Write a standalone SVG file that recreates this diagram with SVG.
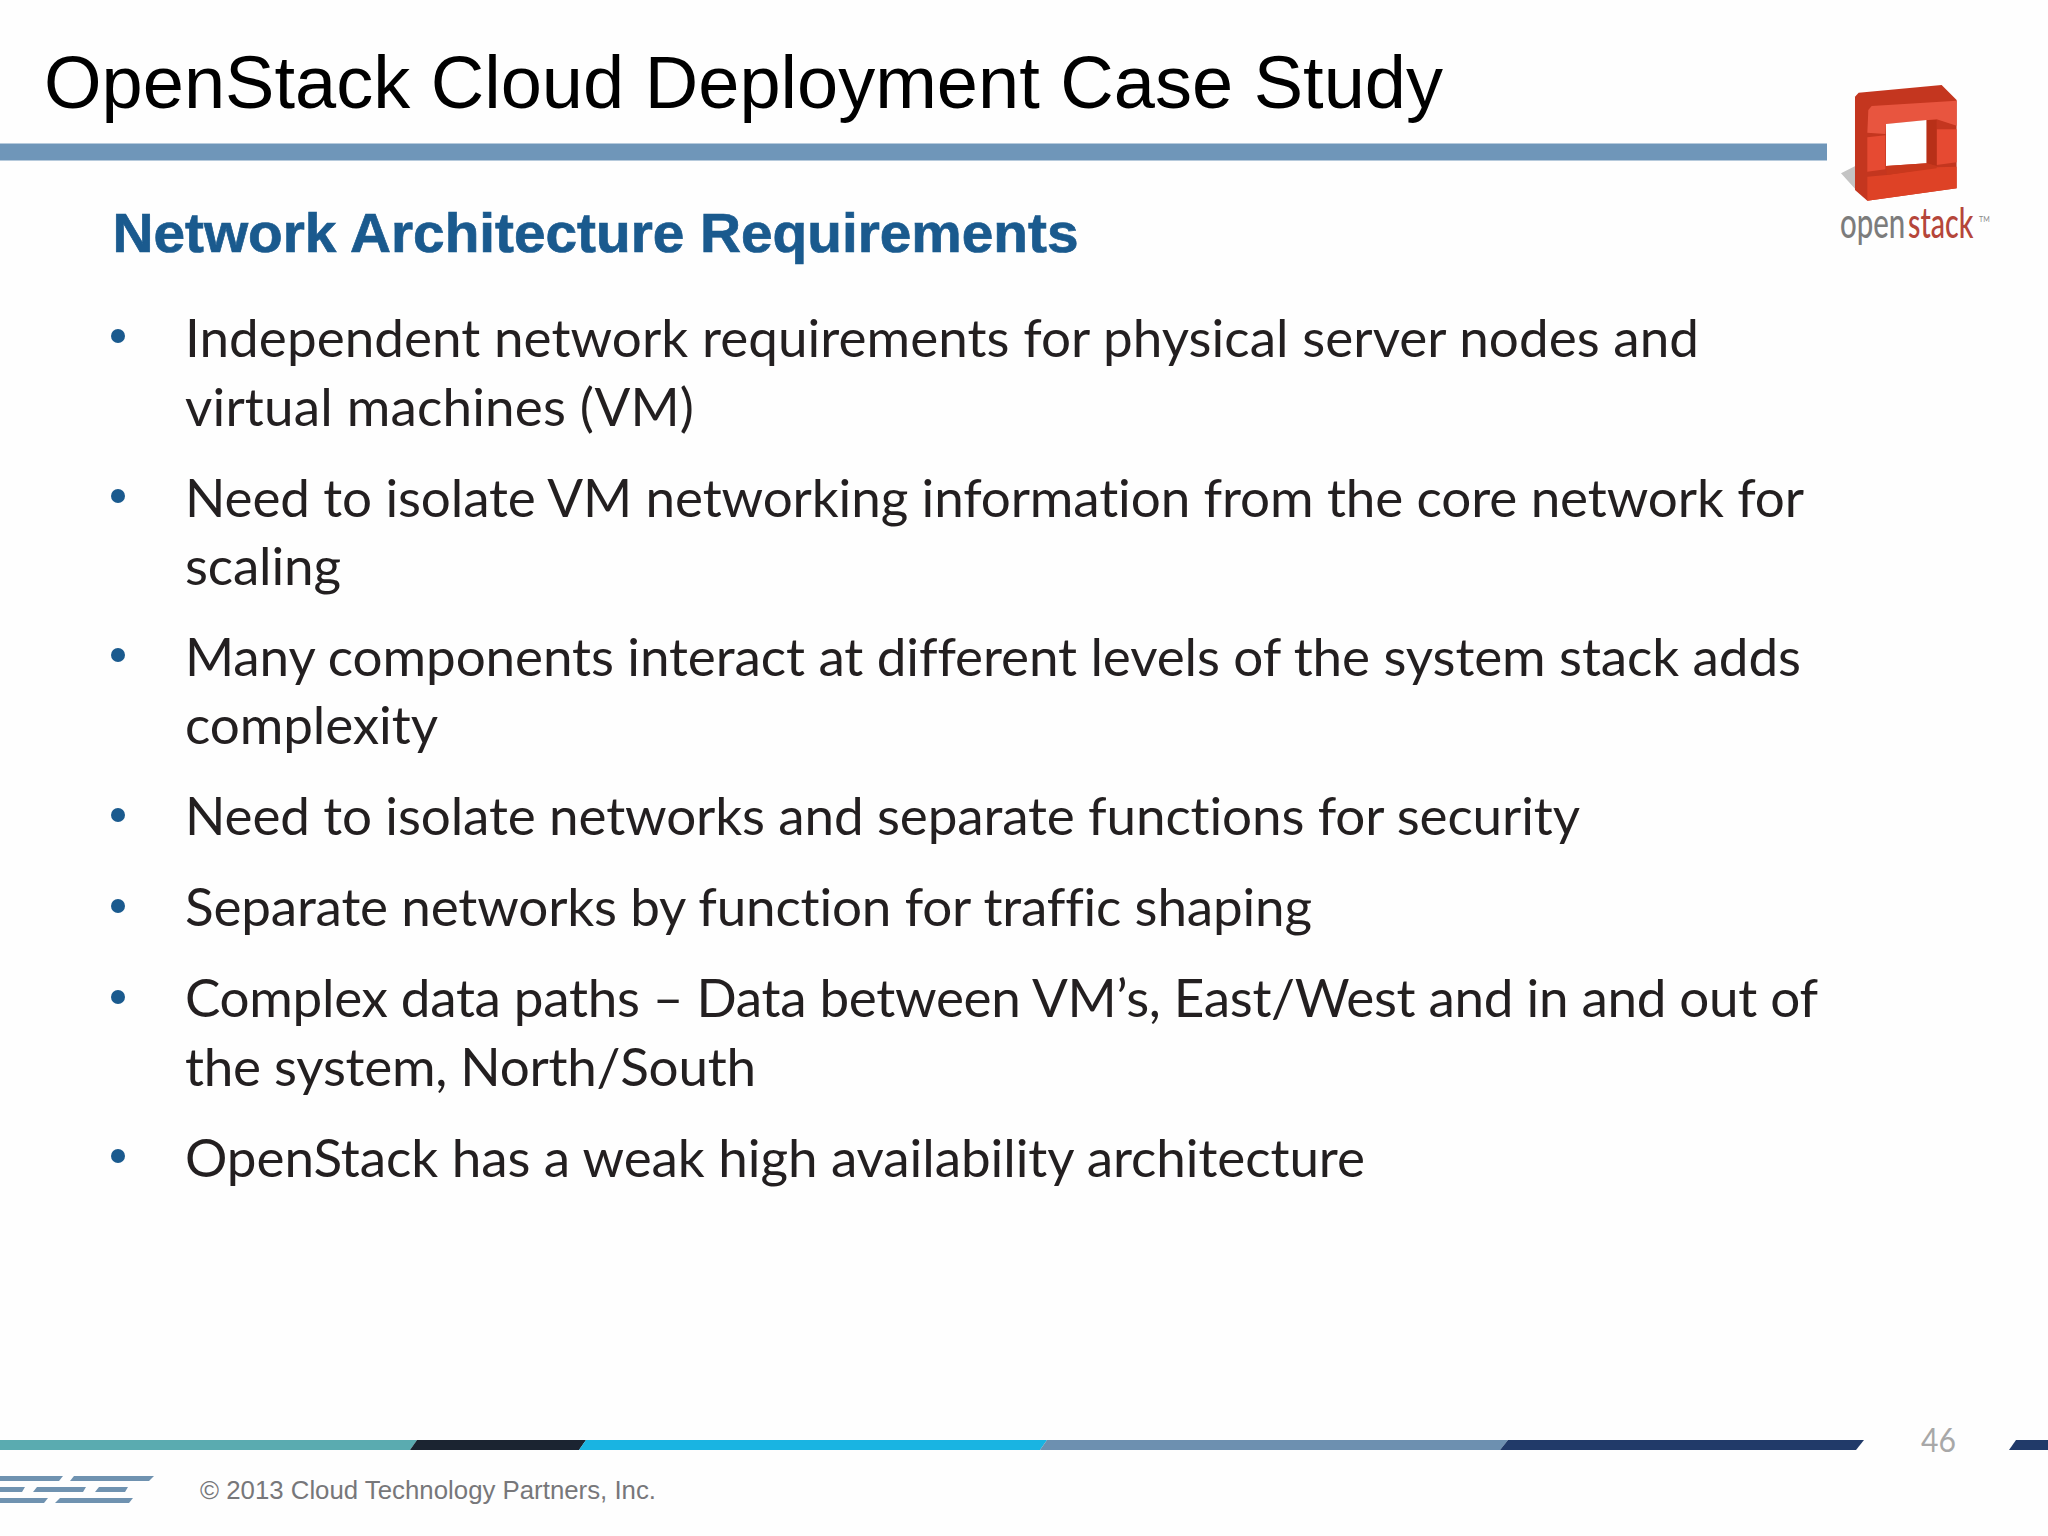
<svg xmlns="http://www.w3.org/2000/svg" width="2048" height="1536" viewBox="0 0 2048 1536">
<style>
.b{font-family:"Lato","Carlito","Open Sans",sans-serif;font-size:53px;fill:#231f20;font-variant-ligatures:none}
.d{fill:#1a5a8e}
.l{font-family:"Lato",sans-serif;font-size:42px;font-weight:500}
</style>
<rect width="2048" height="1536" fill="#fefefe"/>
<g id="header">
<text x="44" y="108" font-family="Liberation Sans, Arial, sans-serif" font-size="74" fill="#000" textLength="1399" lengthAdjust="spacingAndGlyphs">OpenStack Cloud Deployment Case Study</text>
<rect x="0" y="143.500" width="1827" height="17" fill="#6f96b9"/>
<text x="112.500" y="252" font-family="Liberation Sans, Arial, sans-serif" font-size="56" font-weight="700" fill="#1a5a8e" stroke="#1a5a8e" stroke-width=".7" textLength="966" lengthAdjust="spacingAndGlyphs">Network Architecture Requirements</text>
</g>
<g id="logo">
<g transform="translate(1780,60) scale(.3333)">
<polygon points="183,340 226,318 226,388 248,412" fill="#c4c4c4"/>
<polygon points="225,110 236,98 485,75 530,120 530,385 262,422 225,390" fill="#c4361f"/>
<polygon points="265,150 275,138 530,122 530,197 470,178 318,192 316,222 262,218" fill="#e8553f"/>
<polygon points="262,232 316,226 316,328 262,335" fill="#e64a32"/>
<polygon points="470,208 530,208 530,307 470,315" fill="#e64a32"/>
<polygon points="262,350 320,345 470,322 530,320 530,385 262,422" fill="#de4226"/>
<polygon points="318,192 440,180 440,310 318,318" fill="#fff"/>
<polygon points="440,180 470,180 470,318 440,310" fill="#b83018"/>
<polygon points="318,318 440,310 470,318 470,325 320,345" fill="#c8381d"/>
</g>
<text class="l" transform="translate(1840,238) scale(.7,1)" fill="#7c7c7c">open</text>
<text class="l" transform="translate(1908,238) scale(.68,1)" fill="#b5463a">stack</text>
<text x="1979" y="222" font-family="Lato, sans-serif" font-size="7" fill="#888">TM</text>
</g>
<g id="bullets" class="d">
<circle cx="118" cy="336" r="7"/><circle cx="118" cy="496" r="7"/><circle cx="118" cy="655" r="7"/><circle cx="118" cy="815" r="7"/><circle cx="118" cy="906" r="7"/><circle cx="118" cy="997" r="7"/><circle cx="118" cy="1156" r="7"/>
</g>
<g id="body">
<text class="b" x="185" y="357" textLength="1514">Independent network requirements for physical server nodes and</text>
<text class="b" x="185" y="425.500" textLength="509">virtual machines (VM)</text>
<text class="b" x="185" y="516.500" textLength="1619">Need to isolate VM networking information from the core network for</text>
<text class="b" x="185" y="585" textLength="156">scaling</text>
<text class="b" x="185" y="676" textLength="1616">Many components interact at different levels of the system stack adds</text>
<text class="b" x="185" y="744" textLength="253">complexity</text>
<text class="b" x="185" y="835" textLength="1395">Need to isolate networks and separate functions for security</text>
<text class="b" x="185" y="926" textLength="1127">Separate networks by function for traffic shaping</text>
<text class="b" x="185" y="1017" textLength="1633">Complex data paths – Data between VM’s, East/West and in and out of</text>
<text class="b" x="185" y="1086" textLength="571">the system, North/South</text>
<text class="b" x="185" y="1176.500" textLength="1180">OpenStack has a weak high availability architecture</text>
</g>
<g id="footer">
<polygon points="0,1440 417,1440 410,1450 0,1450" fill="#5aabb0"/>
<polygon points="417,1440 586,1440 579,1450 410,1450" fill="#1b2431"/>
<polygon points="586,1440 1047,1440 1040,1450 579,1450" fill="#19b4e2"/>
<polygon points="1047,1440 1508,1440 1500,1450 1040,1450" fill="#6d90b0"/>
<polygon points="1508,1440 1864,1440 1856,1450 1500,1450" fill="#213a69"/>
<polygon points="2016,1440 2048,1440 2048,1450 2009,1450" fill="#213a69"/>
<g fill="#6f92b0">
<polygon points="0,1476 63,1476 59,1481 0,1481"/><polygon points="74,1476 154,1476 149,1481 70,1481"/>
<polygon points="0,1487 25,1487 22,1492 0,1492"/><polygon points="37,1487 86,1487 83,1492 33,1492"/><polygon points="99,1487 128,1487 125,1492 95,1492"/>
<polygon points="0,1498 48,1498 44,1503 0,1503"/><polygon points="60,1498 133,1498 129,1503 55,1503"/>
</g>
<text x="200" y="1499" font-family="Liberation Sans, Arial, sans-serif" font-size="26" fill="#77777a" textLength="456" lengthAdjust="spacingAndGlyphs">© 2013 Cloud Technology Partners, Inc.</text>
<text x="1921" y="1452" font-family="Lato, sans-serif" font-size="32" fill="#a8a8a8" textLength="35" lengthAdjust="spacingAndGlyphs">46</text>
</g>
</svg>
